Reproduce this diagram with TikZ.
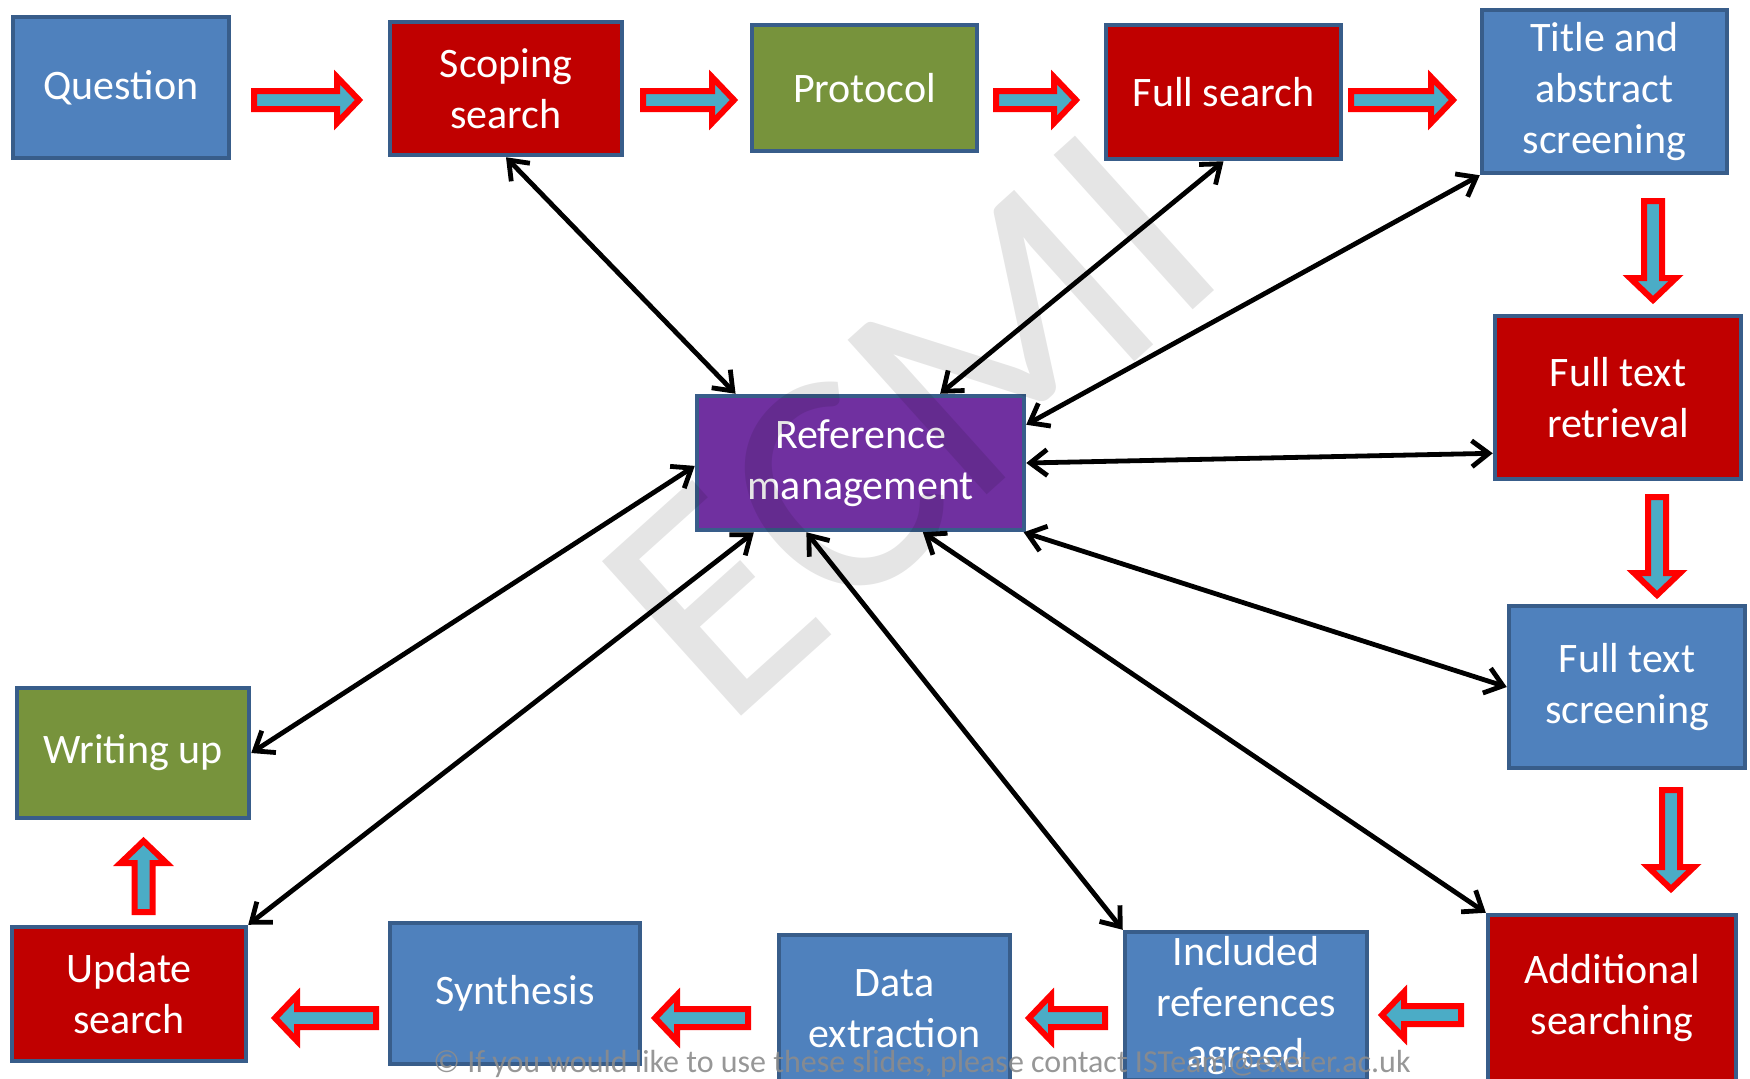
\documentclass[tikz,border=0pt]{standalone}
\usepackage{fontspec}
\setmainfont{Carlito}
\usetikzlibrary{arrows.meta}

\definecolor{boxblue}{RGB}{79,129,189}
\definecolor{boxred}{RGB}{192,0,0}
\definecolor{boxgreen}{RGB}{119,147,60}
\definecolor{boxpurple}{RGB}{112,48,160}
\definecolor{boxedge}{RGB}{56,93,138}
\definecolor{flowfill}{RGB}{75,172,198}

\tikzset{
    box/.style={draw=boxedge, line width=2.25pt, text=white, align=center,
        font=\fontsize{21}{25.5}\selectfont, inner sep=0pt},
    bluebox/.style={box, fill=boxblue},
    redbox/.style={box, fill=boxred},
    greenbox/.style={box, fill=boxgreen},
    purplebox/.style={box, fill=boxpurple},
    link/.style={{Straight Barb[length=8.5pt,width=13pt]}-{Straight Barb[length=8.5pt,width=13pt]},
        line width=2.4pt},
    flowline/.style={fill=flowfill, draw=red, line width=3pt, line join=miter},
    pics/flow/.style={code={
        \draw[flowline] ({-#1/2+3},-9) -- ({#1/2-26},-9) -- ({#1/2-26},-23)
            -- ({#1/2-4},0) -- ({#1/2-26},23) -- ({#1/2-26},9) -- ({-#1/2+3},9) -- cycle;
    }},
    watermark/.style={text=black, text opacity=0.1, rotate=42,
        font=\fontsize{162}{162}\selectfont},
    footer/.style={text=black!45, text opacity=0.9, font=\fontsize{16}{19}\selectfont}
}

\begin{document}
\begin{tikzpicture}[x=0.5pt, y=-0.5pt]
    \useasboundingbox (0,0) rectangle (1750,1078);
    \clip (0,0) rectangle (1750,1078);

    % boxes
    \node[bluebox, minimum width=108pt, minimum height=70.5pt] (question) at (121,87.5) {Question};
    \node[redbox, minimum width=116pt, minimum height=66.5pt] (scoping) at (506,88.5) {Scoping\\search};
    \node[greenbox, minimum width=112.5pt, minimum height=63pt] (protocol) at (864.5,88) {Protocol};
    \node[redbox, minimum width=117.5pt, minimum height=67pt] (fullsearch) at (1223.5,92) {Full search};
    \node[bluebox, minimum width=122.5pt, minimum height=81.5pt] (title) at (1604.5,91.5) {Title and\\abstract\\screening};
    \node[redbox, minimum width=123pt, minimum height=81.5pt] (fttret) at (1618,397.5) {Full text\\retrieval};
    \node[bluebox, minimum width=118pt, minimum height=81pt] (ftscreen) at (1627,687) {Full text\\screening};
    \node[redbox, minimum width=124pt, minimum height=83pt] (addsearch) at (1612,998) {Additional\\searching};
    \node[bluebox, minimum width=121pt, minimum height=74pt] (included) at (1246,1006) {Included\\references\\agreed};
    \node[bluebox, minimum width=115.5pt, minimum height=74pt] (dataext) at (894.5,1009) {Data\\extraction};
    \node[bluebox, minimum width=125pt, minimum height=70.5pt] (synthesis) at (515,993.5) {Synthesis};
    \node[redbox, minimum width=117pt, minimum height=67pt] (update) at (129,994) {Update\\search};
    \node[greenbox, minimum width=116pt, minimum height=65pt] (writing) at (133,753) {Writing up};
    \node[purplebox, minimum width=163.5pt, minimum height=67pt] (refman) at (860.5,463) {Reference\\management};

    % process arrows
    \pic at (307,100) {flow=112};
    \pic at (689,100) {flow=98};
    \pic at (1036.5,100) {flow=87};
    \pic at (1402.5,100) {flow=109};
    \pic[rotate=-90] at (1653,251) {flow=106};
    \pic[rotate=-90] at (1657,546.5) {flow=105};
    \pic[rotate=-90] at (1671,840) {flow=106};
    \pic[rotate=180] at (1421,1015) {flow=86};
    \pic[rotate=180] at (1066.5,1018) {flow=83};
    \pic[rotate=180] at (701,1018) {flow=100};
    \pic[rotate=180] at (325,1018) {flow=108};
    \pic[rotate=90] at (143.5,876) {flow=78};

    % reference management links
    \draw[link] (scoping.south) -- (refman.151);
    \draw[link] (fullsearch.south) -- (refman.41);
    \draw[link] (title.south west) -- (refman.13);
    \draw[link] (fttret.204) -- (refman.0);
    \draw[link] (ftscreen.west) -- (refman.337);
    \draw[link] (addsearch.north west) -- (refman.312);
    \draw[link] (included.north west) -- (refman.232);
    \draw[link] (update.north east) -- (refman.213);
    \draw[link] (writing.east) -- (refman.181);

    \node[watermark] (ecmi) at (910,425) {ECMI};
    \node[footer] (notice) at (922,1064) {© If you would like to use these slides, please contact ISTeam@exeter.ac.uk};
\end{tikzpicture}
\end{document}
